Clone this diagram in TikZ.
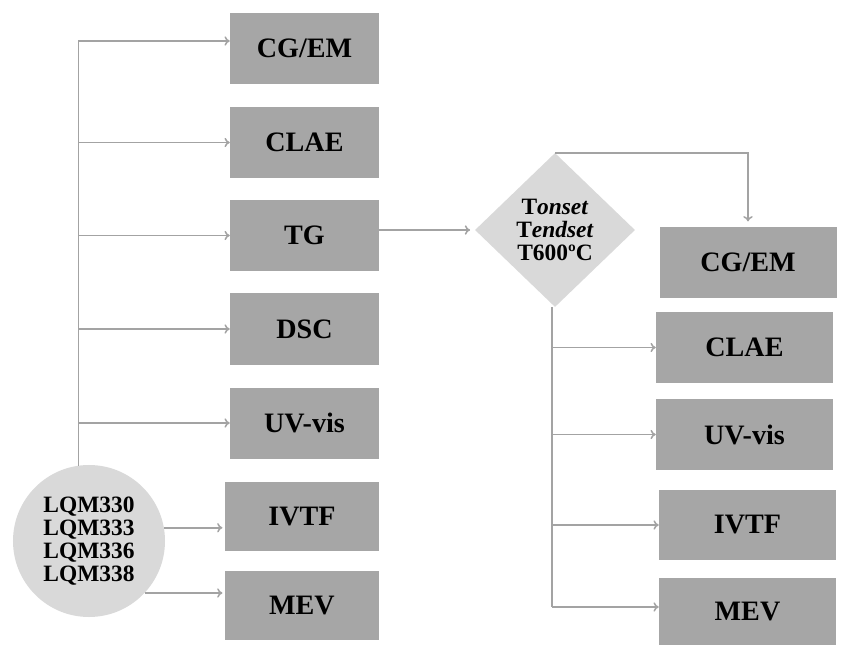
\documentclass[tikz,border=0pt]{standalone}
\usepackage{fontspec}
\setmainfont{Liberation Serif}
\usetikzlibrary{arrows.meta,shapes.geometric,positioning}

\definecolor{boxgray}{HTML}{A6A6A6}
\definecolor{lightgray}{HTML}{D9D9D9}
\definecolor{linegray}{HTML}{A3A3A3}

\begin{document}
\begin{tikzpicture}[x=0.03cm,y=-0.03cm,
    box/.style={rectangle, fill=boxgray, inner sep=0pt, minimum width=4.47cm, minimum height=2.13cm, font=\fontsize{24}{26}\selectfont\bfseries},
    rbox/.style={box, minimum width=5.31cm, minimum height=2.1cm},
    conn/.style={draw=linegray, line width=1.3pt},
    arr/.style={conn, -{To[length=4.5pt,width=8pt]}}]
      \useasboundingbox (0,0) rectangle (856,646);
      % left column
      \node[box] at (304.5,48.5) (cgL) {CG/EM};
      \node[box] at (304.5,142.5) (claeL) {CLAE};
      \node[box] at (304.5,235.5) (tgL) {TG};
      \node[box] at (304.5,329) (dscL) {DSC};
      \node[box] at (304.5,423) (uvL) {UV-vis};
      \node[box, minimum width=4.62cm, minimum height=2.07cm] at (302,516.5) (ivtfL) {IVTF};
      \node[box, minimum width=4.62cm, minimum height=2.07cm] at (302,605.5) (mevL) {MEV};
      \node[circle, fill=lightgray, minimum size=4.56cm, inner sep=0pt, align=center,
            font=\fontsize{20}{19.5}\selectfont\bfseries] at (89,541) (samples)
            {LQM330\\LQM333\\LQM336\\LQM338};
      \coordinate (trunk) at (79,41);
      % thermal analysis
      \node[diamond, fill=lightgray, minimum width=4.8cm, minimum height=4.62cm, inner sep=0pt,
            align=center, font=\fontsize{20}{19.5}\selectfont\bfseries] at (555,230) (temps)
            {T\textit{onset}\\T\textit{endset}\\T600ºC};
      % right column
      \node[rbox] at (748,262.5) (cgR) {CG/EM};
      \node[rbox] at (744.5,347.5) (claeR) {CLAE};
      \node[rbox, minimum height=2.13cm] at (744.5,434.5) (uvR) {UV-vis};
      \node[rbox] at (747.5,525) (ivtfR) {IVTF};
      \node[rbox, minimum height=2.01cm] at (747.5,611.5) (mevR) {MEV};
      \coordinate (rtrunk) at (552,607);
      % connectors
      \draw[conn] (samples.98) -- (samples.98 |- trunk);
      \draw[arr] (samples.98 |- trunk) -- (trunk -| cgL.west);
      \draw[arr] (claeL.west -| trunk) -- (claeL.west);
      \draw[arr] (tgL.west -| trunk) -- (tgL.west);
      \draw[arr] (dscL.west -| trunk) -- (dscL.west);
      \draw[arr] (uvL.west -| trunk) -- (uvL.west);
      \draw[arr, shorten >=2pt] (samples.10) -- (samples.10 -| ivtfL.west);
      \draw[arr, shorten >=2pt] (samples.-43) -- (samples.-43 -| mevL.west);
      \draw[arr, shorten >=4pt] (tgL.east |- temps) -- (temps.west);
      \draw[arr, shorten >=5pt] (temps.north) -| (cgR.north);
      \draw[conn] (temps.south -| rtrunk) -- (rtrunk);
      \draw[arr] (claeR.west -| rtrunk) -- (claeR.west);
      \draw[arr] (uvR.west -| rtrunk) -- (uvR.west);
      \draw[arr] (ivtfR.west -| rtrunk) -- (ivtfR.west);
      \draw[arr] (rtrunk) -- (rtrunk -| mevR.west);
\end{tikzpicture}
\end{document}
